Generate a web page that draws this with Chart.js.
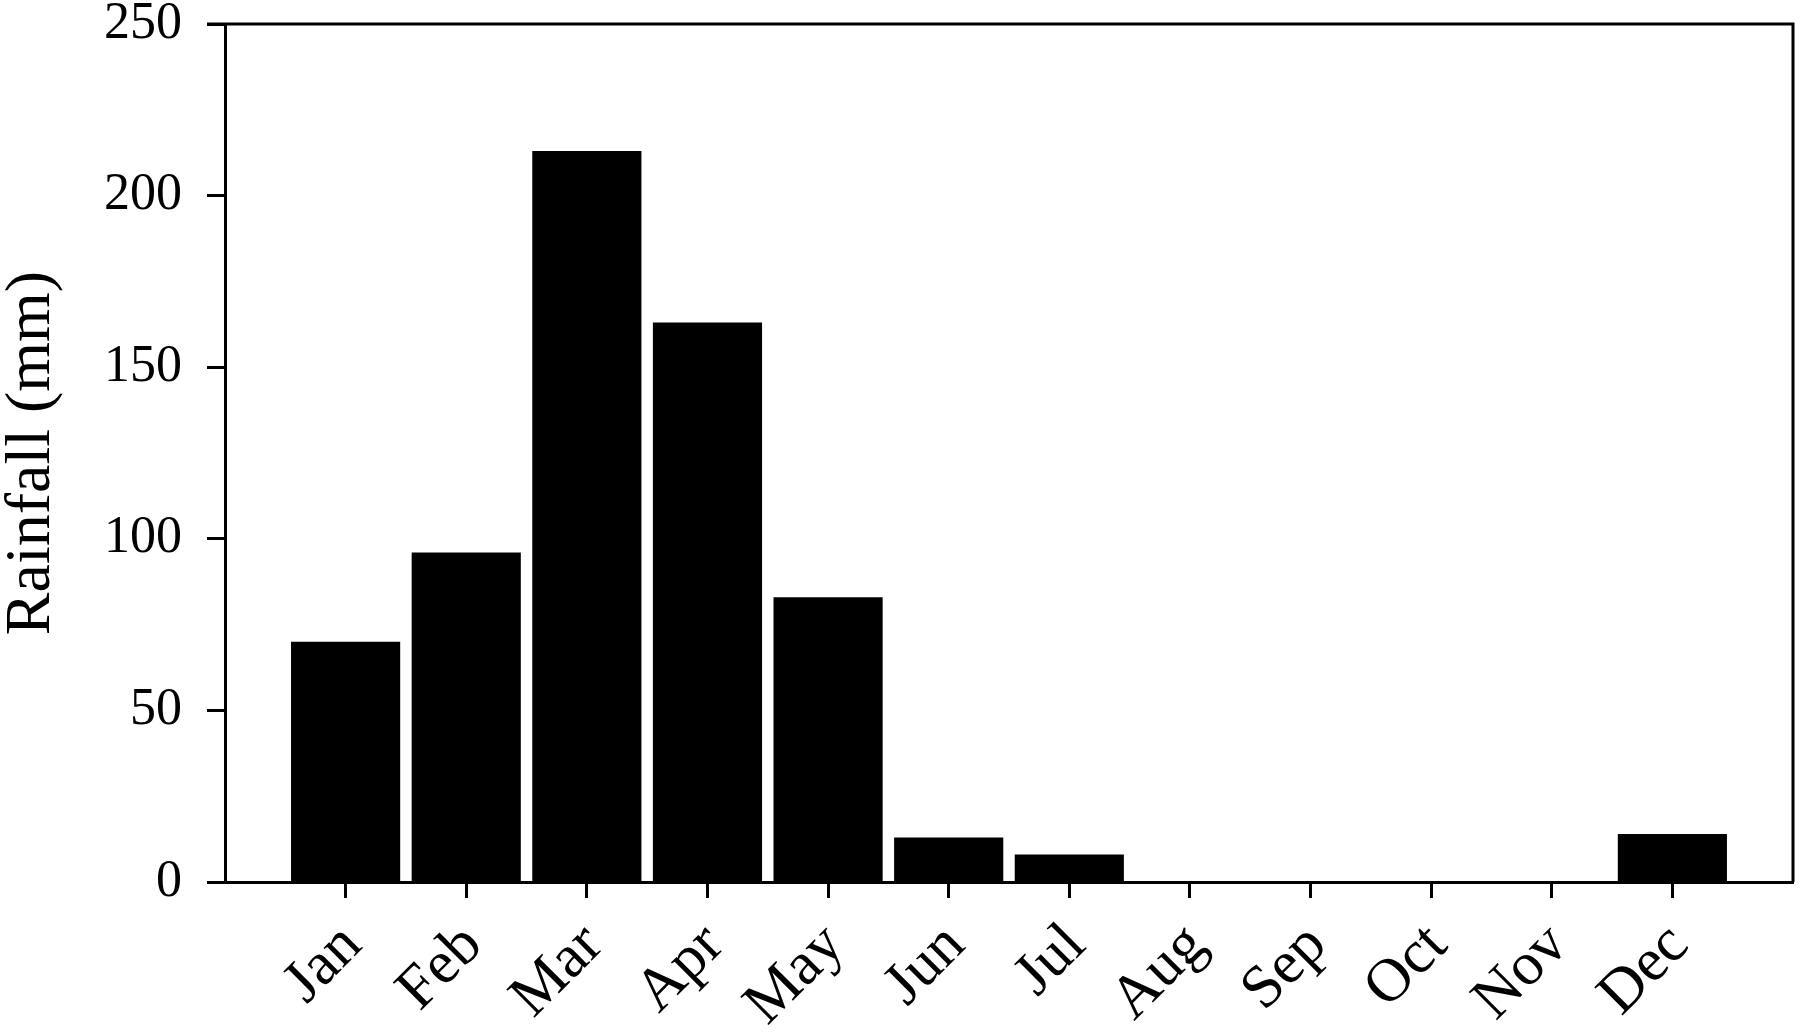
<!DOCTYPE html>
<html>
<head>
<meta charset="utf-8">
<script src="https://cdn.jsdelivr.net/npm/chart.js@4"></script>
<style>
  html, body { margin: 0; padding: 0; background: #fff; }
  #wrap { width: 1800px; height: 1033px; }
</style>
</head>
<body>
<div id="wrap"><canvas id="rainChart"></canvas></div>
<script>
const months = ["Jan", "Feb", "Mar", "Apr", "May", "Jun", "Jul", "Aug", "Sep", "Oct", "Nov", "Dec"];
const rainfall = [70, 96, 213, 163, 83, 13, 8, 0, 0, 0, 0, 14];
const yTicks = [0, 50, 100, 150, 200, 250];

const serif = "'Liberation Serif', 'Times New Roman', serif";

// draws the top and right edges of the plot box
const frame = {
  id: "frame",
  afterDraw(chart) {
    const { ctx, chartArea: a } = chart;
    ctx.save();
    ctx.strokeStyle = "#000";
    ctx.lineWidth = 3;
    ctx.beginPath();
    ctx.moveTo(a.left - 18, a.top);
    ctx.lineTo(a.right, a.top);
    ctx.lineTo(a.right, a.bottom);
    ctx.stroke();
    ctx.restore();
  },
};

const ctx = document.getElementById("rainChart").getContext("2d");
const rainChart = new Chart(ctx, {
  type: "bar",
  data: {
    datasets: [
      {
        label: "Rainfall",
        data: months.map((m, i) => ({ x: i + 1, y: rainfall[i] })),
        backgroundColor: "#000",
        borderWidth: 0,
        barPercentage: 0.905,
        categoryPercentage: 1,
      },
    ],
  },
  options: {
    responsive: true,
    maintainAspectRatio: false,
    animation: false,
    layout: { padding: { top: 0, right: 7, left: 0, bottom: 0 } },
    plugins: { legend: { display: false }, tooltip: { enabled: false } },
    scales: {
      x: {
        type: "linear",
        min: 0,
        max: 13,
        offset: false,
        afterBuildTicks: (scale) => {
          scale.ticks = months.map((m, i) => ({ value: i + 1 }));
        },
        afterFit: (scale) => {
          scale.height = 151;
        },
        border: { display: true, color: "#000", width: 3 },
        grid: {
          offset: false,
          drawOnChartArea: false,
          drawTicks: true,
          tickLength: 16,
          tickWidth: 3,
          tickColor: "#000",
        },
        ticks: {
          autoSkip: false,
          minRotation: 45,
          maxRotation: 45,
          padding: 12,
          labelOffset: 7,
          color: "#000",
          font: { family: serif, size: 61 },
          callback: (v) => months[v - 1] || "",
        },
      },
      y: {
        min: 0,
        max: 250,
        afterBuildTicks: (scale) => {
          scale.ticks = yTicks.map((v) => ({ value: v }));
        },
        afterFit: (scale) => {
          scale.width = 225;
          scale.paddingTop = 24;
          scale.paddingBottom = 0;
        },
        border: { display: true, color: "#000", width: 3 },
        grid: {
          drawOnChartArea: false,
          drawTicks: true,
          tickLength: 18,
          tickWidth: 3,
          tickColor: "#000",
        },
        ticks: {
          padding: 25,
          color: "#000",
          font: { family: serif, size: 52 },
        },
        title: {
          display: true,
          text: "Rainfall (mm)",
          color: "#000",
          padding: 0,
          font: { family: serif, size: 64, lineHeight: 1 },
        },
      },
    },
  },
  plugins: [frame],
});
</script>
</body>
</html>
